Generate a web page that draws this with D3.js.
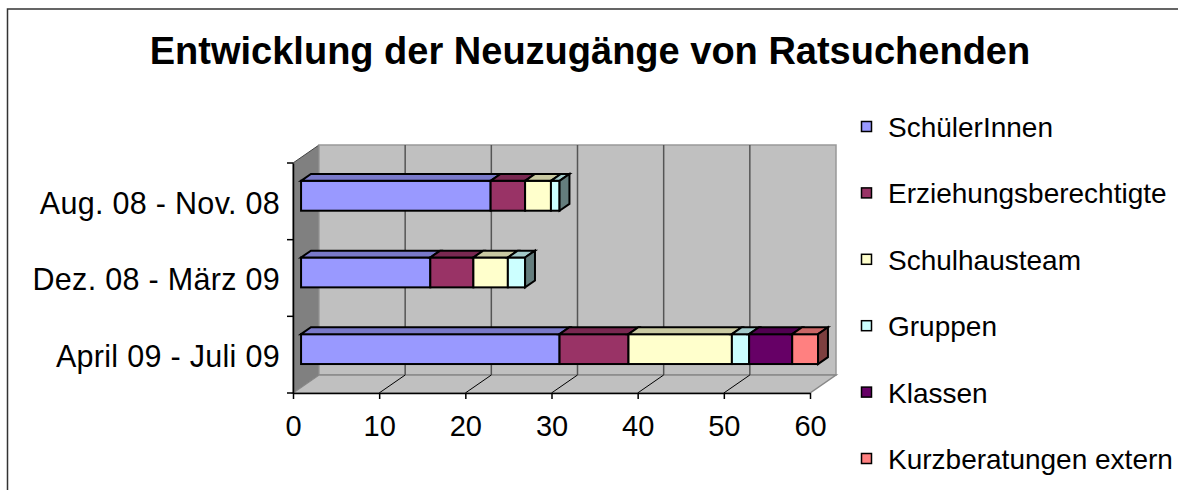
<!DOCTYPE html>
<meta charset="utf-8">
<style>
body { margin: 0; background: #fff; }
text { font-family: "Liberation Sans", Arial, sans-serif; fill: #000; }
.title { font-size: 38px; font-weight: bold; }
.axis text { font-size: 29px; }
.cat text { font-size: 30.5px; letter-spacing: 0.3px; }
.legend text { font-size: 28px; }
</style>
<body>
<div id="chart"></div>
</body>
<script src="https://d3js.org/d3.v7.min.js"></script>
<script>

// data
var categories = ["Aug. 08 - Nov. 08", "Dez. 08 - März 09", "April 09 - Juli 09"];
var seriesNames = ["SchülerInnen", "Erziehungsberechtigte", "Schulhausteam", "Gruppen", "Klassen", "Kurzberatungen extern"];
var seriesColors = ["#9999ff", "#993366", "#ffffcc", "#ccffff", "#660066", "#ff8080"];
var schueler = [22, 15, 30];
var eltern = [4, 5, 8];
var schulhaus = [3, 4, 12];
var gruppen = [1, 2, 2];
var klassen = [0, 0, 5];
var kurz = [0, 0, 3];
var xTicks = [0, 10, 20, 30, 40, 50, 60];

var width = 1178,
    height = 490,
    plotLeft = 293, plotRight = 810,   // front plane of the value axis
    plotTop = 163, plotBottom = 393,
    depthX = 26, depthY = -18, // wall depth
    barFront = 0.31, barBack = 0.69; // bars sit in the middle of the depth

var seriesValues = [schueler, eltern, schulhaus, gruppen, klassen, kurz];

var svg = d3.select("#chart").append("svg")
    .attr("width", width)
    .attr("height", height);

// frame
svg.append("rect")
    .attr("x", 7.5).attr("y", 9)
    .attr("width", 1300).attr("height", 600)
    .attr("fill", "none")
    .attr("stroke", "#333")
    .attr("stroke-width", 1.5);

svg.append("text")
    .attr("class", "title")
    .attr("x", 590)
    .attr("y", 64)
    .attr("text-anchor", "middle")
    .text("Entwicklung der Neuzugänge von Ratsuchenden");

var x = d3.scaleLinear().domain([0, 60]).range([plotLeft, plotRight]);
var y = d3.scaleBand()
    .domain(categories.slice().reverse())
    .range([plotBottom, plotTop])
    .paddingInner(0.61)
    .paddingOuter(0.305);

function pts(arr) { return arr.map(function(p) { return p.join(","); }).join(" "); }

var walls = svg.append("g");

// left side wall
walls.append("polygon")
    .attr("points", pts([[plotLeft, plotTop], [plotLeft + depthX, plotTop + depthY], [plotLeft + depthX, plotBottom + depthY], [plotLeft, plotBottom]]))
    .attr("fill", "#808080")
    .attr("stroke", "#444")
    .attr("stroke-width", 1);

// back wall
walls.append("rect")
    .attr("x", plotLeft + depthX)
    .attr("y", plotTop + depthY)
    .attr("width", plotRight - plotLeft)
    .attr("height", plotBottom - plotTop)
    .attr("fill", "#c0c0c0")
    .attr("stroke", "#999")
    .attr("stroke-width", 1.5);

// floor
walls.append("polygon")
    .attr("points", pts([[plotLeft, plotBottom], [plotRight, plotBottom], [plotRight + depthX, plotBottom + depthY], [plotLeft + depthX, plotBottom + depthY]]))
    .attr("fill", "#c0c0c0")
    .attr("stroke", "#888")
    .attr("stroke-width", 1.5);

// gridlines on back wall
walls.selectAll(".grid")
    .data(xTicks.slice(1, -1))
    .enter().append("line")
    .attr("x1", function(d) { return x(d) + depthX; })
    .attr("x2", function(d) { return x(d) + depthX; })
    .attr("y1", plotTop + depthY)
    .attr("y2", plotBottom + depthY)
    .attr("stroke", "#555")
    .attr("stroke-width", 1.5);

// gridlines on floor
walls.selectAll(".floorgrid")
    .data(xTicks.slice(1, -1))
    .enter().append("line")
    .attr("x1", function(d) { return x(d); })
    .attr("x2", function(d) { return x(d) + depthX; })
    .attr("y1", plotBottom)
    .attr("y2", plotBottom + depthY)
    .attr("stroke", "#000")
    .attr("stroke-width", 1);

// bars
var fx = depthX * barFront, fy = depthY * barFront;
var dx = depthX * (barBack - barFront), dy = depthY * (barBack - barFront);

var bars = svg.append("g")
    .attr("stroke", "#000")
    .attr("stroke-width", 2)
    .attr("stroke-linejoin", "miter");

categories.forEach(function(cat, ci) {
  var y0 = y(cat) + fy, y1 = y0 + y.bandwidth();
  var acc = 0, segs = [];
  seriesValues.forEach(function(vals, si) {
    if (vals[ci] > 0) {
      segs.push({ a: acc, b: acc + vals[ci], color: seriesColors[si] });
      acc += vals[ci];
    }
  });
  segs.forEach(function(s, k) {
    var xa = x(s.a) + fx, xb = x(s.b) + fx;
    bars.append("rect")
        .attr("x", xa).attr("y", y0)
        .attr("width", xb - xa).attr("height", y1 - y0)
        .attr("fill", s.color);
    bars.append("polygon")
        .attr("points", pts([[xa, y0], [xa + dx, y0 + dy], [xb + dx, y0 + dy], [xb, y0]]))
        .attr("fill", d3.rgb(s.color).darker(0.65));
    if (k === segs.length - 1) {
      bars.append("polygon")
          .attr("points", pts([[xb, y0], [xb + dx, y0 + dy], [xb + dx, y1 + dy], [xb, y1]]))
          .attr("fill", d3.rgb(s.color).darker(2));
    }
  });
});

// value axis
var xAxis = svg.append("g")
    .attr("class", "axis")
    .attr("transform", "translate(0," + plotBottom + ")")
    .call(d3.axisBottom(x).tickValues(xTicks).tickSize(6).tickPadding(16).tickSizeOuter(0));
xAxis.select(".domain").attr("stroke", "#000").attr("stroke-width", 1.5);
xAxis.selectAll(".tick line").attr("stroke", "#000").attr("stroke-width", 1.5);

// category axis
var yAxis = svg.append("g")
    .attr("class", "cat")
    .attr("transform", "translate(" + plotLeft + ",0)")
    .call(d3.axisLeft(y).tickSize(0).tickPadding(13).tickSizeOuter(0));
yAxis.select(".domain").attr("stroke", "#000").attr("stroke-width", 1.5);
yAxis.selectAll(".tick text").attr("dy", "0.4em");

var bounds = d3.range(categories.length + 1).map(function(i) { return plotBottom - i * y.step(); });
yAxis.selectAll(".bound")
    .data(bounds)
    .enter().append("line")
    .attr("x1", -6).attr("x2", 0)
    .attr("y1", function(d) { return d; })
    .attr("y2", function(d) { return d; })
    .attr("stroke", "#000")
    .attr("stroke-width", 1.5);

// legend
var legend = svg.append("g")
    .attr("class", "legend")
    .selectAll("g")
    .data(seriesNames)
    .enter().append("g")
    .attr("transform", function(d, i) { return "translate(861.5," + (121.5 + i * 66.4) + ")"; });

legend.append("rect")
    .attr("width", 10).attr("height", 10)
    .attr("fill", function(d, i) { return seriesColors[i]; })
    .attr("stroke", "#000")
    .attr("stroke-width", 1.5);

legend.append("text")
    .attr("x", 26.5)
    .attr("y", 15.5)
    .text(function(d) { return d; });

</script>
